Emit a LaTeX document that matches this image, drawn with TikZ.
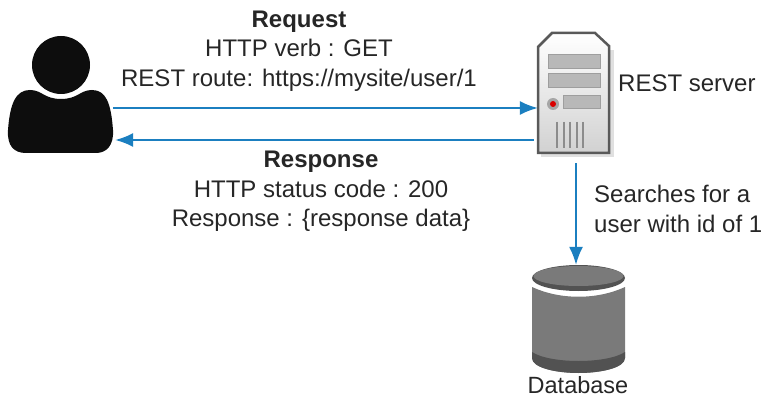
\documentclass[tikz,border=0pt]{standalone}
\usepackage{fontspec}
\setmainfont{Liberation Sans}
\usetikzlibrary{arrows.meta, positioning}
\definecolor{flowblue}{HTML}{1B7FC0}
\definecolor{textgray}{HTML}{262626}
\tikzset{
  flow/.style={draw=flowblue, line width=1.8pt, -{Latex[length=18pt,width=14pt]}},
  lbl/.style={text=textgray, font=\fontsize{24}{29.5}\selectfont, align=center, inner sep=0pt},
  box/.style={inner sep=0pt, minimum width=#1},
  slot/.style={fill=black!28, draw=black!38, line width=1pt}
}

\begin{document}
\begin{tikzpicture}[x=1pt, y=-1pt]
    \useasboundingbox (0,0) rectangle (765,398);
    % user
    \fill[black!95] (61,65) circle (29);
    \fill[black!95] (30,90) .. controls (42,90) and (44,99) .. (61,99)
      .. controls (78,99) and (80,90) .. (92,90)
      .. controls (106,90) and (111,103) .. (113,130)
      .. controls (114,146) and (106,153) .. (96,153) -- (26,153)
      .. controls (14,153) and (7,146) .. (8,130)
      .. controls (10,103) and (16,90) .. (30,90) -- cycle;
    % server
    \fill[black!12] (541,50) -- (541,157) -- (614,157) -- (614,50) -- cycle;
    \shade[top color=white, bottom color=black!18, draw=black!65, line width=2.5pt]
      (538,47) -- (552,33) -- (595,33) -- (609,46) -- (609,153) -- (538,153) -- cycle;
    \draw[slot] (548,55) rectangle (600,69);
    \draw[slot] (548,74) rectangle (600,88);
    \draw[slot] (563,96) rectangle (600,109);
    \fill[black!35] (553,104) circle (6);
    \fill[red!85!black] (553,104) circle (3);
    \foreach \xpos in {557,563.6,...,590} {
      \draw[black!45, line width=2pt] (\xpos,122) -- (\xpos,148);
    }
    % database
    \fill[black!52] (532,287) .. controls (560,300) and (597,300) .. (625,287)
      -- (625,358) .. controls (625,368) and (600,373) .. (578.5,373)
      .. controls (557,373) and (532,368) .. (532,358) -- cycle;
    \fill[black!68] (532,352) .. controls (550,364) and (607,364) .. (625,352)
      -- (625,358) .. controls (625,368) and (600,373) .. (578.5,373)
      .. controls (557,373) and (532,368) .. (532,358) -- cycle;
    \fill[black!68] (578.5,278) ellipse (46.5 and 13);
    \fill[black!52] (578.5,276) ellipse (45 and 10);

    \node[box=105, minimum height=63] (user) at (60.5,121.5) {};
    \node[box=76, minimum height=130] (server) at (576,98) {};
    \node[box=98, minimum height=108] (db) at (576,319) {};
    \node[lbl, anchor=north] (req) at (299,10.5) {\textbf{Request}\\HTTP verb : GET\\REST route: https://mysite/user/1};
    \node[lbl, anchor=north] (resp) at (321,151) {\textbf{Response}\\HTTP status code : 200\\Response : \{response data\}};
    \node[lbl, anchor=west] (srvname) at (618,83) {REST server};
    \node[lbl, anchor=west, align=left] (search) at (594,209) {Searches for a\\user with id of 1};
    \node[lbl, anchor=center, font=\fontsize{23.5}{28}\selectfont] (dbname) at (578,385.5) {Database};

    \draw[flow] ([yshift=13.5pt]user.east) -- ([yshift=-10pt]server.west);
    \draw[flow] ([xshift=-4pt,yshift=-42pt]server.west) -- ([xshift=2pt,yshift=-18.5pt]user.east);
    \draw[flow] (server.south) -- (db.north);
\end{tikzpicture}
\end{document}
